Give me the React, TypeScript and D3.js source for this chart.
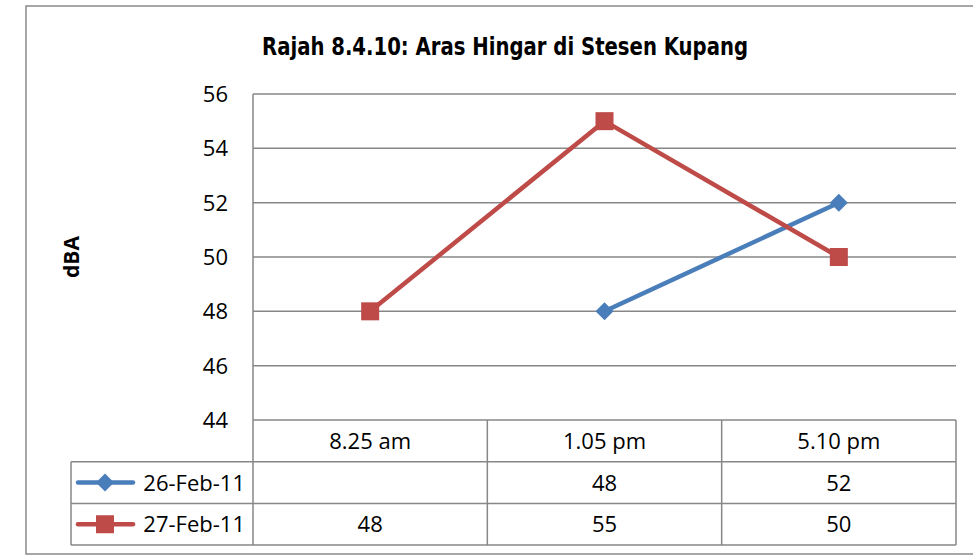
import React from "react";
import * as d3 from "d3";

const title = "Rajah 8.4.10: Aras Hingar di Stesen Kupang";
const yLabel = "dBA";
const categories = ["8.25 am", "1.05 pm", "5.10 pm"];
const seriesNames = ["26-Feb-11", "27-Feb-11"];
const series1: (number | null)[] = [null, 48, 52];
const series2: (number | null)[] = [48, 55, 50];
const yTicks = [44, 46, 48, 50, 52, 54, 56];

const W = 973;
const H = 556;
const left = 253;
const right = 956;
const top = 94;
const bottom = 420;
const rowH = 41.7;
const legendLeft = 71;
const colors = ["#4A7EBB", "#BE4B48"];
const grid = "#878787";
const font = "'Open Sans', sans-serif";

export default function App() {
  const x = d3.scaleBand<string>().domain(categories).range([left, right]);
  const y = d3.scaleLinear().domain([44, 56]).range([bottom, top]);
  const cx = (c: string) => (x(c) ?? 0) + x.bandwidth() / 2;
  const allSeries = [series1, series2];
  const line = d3
    .line<number | null>()
    .defined((d) => d != null)
    .x((_, i) => cx(categories[i]))
    .y((d) => y(d as number));

  const tableTop = bottom;
  const rows = [tableTop, tableTop + rowH, tableTop + 2 * rowH, tableTop + 3 * rowH];
  const fs = 22;
  const dy = 8;

  const marker = (si: number, px: number, py: number, key: string) =>
    si === 0 ? (
      <path
        key={key}
        d={`M${px},${py - 9}L${px + 9},${py}L${px},${py + 9}L${px - 9},${py}Z`}
        fill={colors[0]}
      />
    ) : (
      <rect key={key} x={px - 9} y={py - 9} width={18} height={18} fill={colors[1]} />
    );

  return (
    <svg
      width={W}
      height={H}
      style={{ position: "absolute", left: 0, top: 0, background: "#fff" }}
      fontFamily={font}
    >
      <rect x={0} y={0} width={W} height={H} fill="#fff" />
      <rect x={26} y={6} width={980} height={548} fill="none" stroke="#8a8a8a" strokeWidth={1.5} />
      <text
        x={505}
        y={55}
        textAnchor="middle"
        fontFamily="'DejaVu Sans Condensed', 'Liberation Sans Narrow', sans-serif"
        fontWeight="bold"
        fontSize={24}
        textLength={486}
        lengthAdjust="spacingAndGlyphs"
      >
        {title}
      </text>
      <text
        transform={`translate(79,${(top + bottom) / 2}) rotate(-90)`}
        textAnchor="middle"
        fontWeight="bold"
        fontSize={21}
        fontFamily="'Open Sans', sans-serif"
      >
        {yLabel}
      </text>
      {yTicks.map((t) => (
        <g key={t}>
          <line x1={left} x2={right} y1={y(t)} y2={y(t)} stroke={grid} strokeWidth={1.5} />
          <text x={228} y={y(t) + dy} textAnchor="end" fontSize={fs}>
            {t}
          </text>
        </g>
      ))}
      <line x1={left} x2={left} y1={top} y2={rows[3]} stroke={grid} strokeWidth={1.5} />
      {rows.slice(1).map((ry, i) => (
        <line key={i} x1={legendLeft} x2={right} y1={ry} y2={ry} stroke={grid} strokeWidth={1.5} />
      ))}
      <line x1={legendLeft} x2={legendLeft} y1={rows[1]} y2={rows[3]} stroke={grid} strokeWidth={1.5} />
      {categories.map((c) => (
        <line
          key={c}
          x1={(x(c) ?? 0) + x.bandwidth()}
          x2={(x(c) ?? 0) + x.bandwidth()}
          y1={rows[0]}
          y2={rows[3]}
          stroke={grid}
          strokeWidth={1.5}
        />
      ))}
      {categories.map((c) => (
        <text key={c} x={cx(c)} y={rows[0] + rowH / 2 + dy} textAnchor="middle" fontSize={fs}>
          {c}
        </text>
      ))}
      {allSeries.map((s, si) => (
        <g key={si}>
          <line
            x1={78}
            x2={133}
            y1={rows[si + 1] + rowH / 2}
            y2={rows[si + 1] + rowH / 2}
            stroke={colors[si]}
            strokeWidth={4.5}
            strokeLinecap="round"
          />
          {marker(si, 105, rows[si + 1] + rowH / 2, "lm")}
          <text x={245} y={rows[si + 1] + rowH / 2 + dy} textAnchor="end" fontSize={fs}>
            {seriesNames[si]}
          </text>
          {s.map((v, i) =>
            v == null ? null : (
              <text key={i} x={cx(categories[i])} y={rows[si + 1] + rowH / 2 + dy} textAnchor="middle" fontSize={fs}>
                {v}
              </text>
            )
          )}
        </g>
      ))}
      {allSeries.map((s, si) => (
        <g key={"l" + si}>
          <path d={line(s) ?? ""} fill="none" stroke={colors[si]} strokeWidth={4.5} strokeLinejoin="round" />
          {s.map((v, i) => (v == null ? null : marker(si, cx(categories[i]), y(v), "m" + i)))}
        </g>
      ))}
    </svg>
  );
}
